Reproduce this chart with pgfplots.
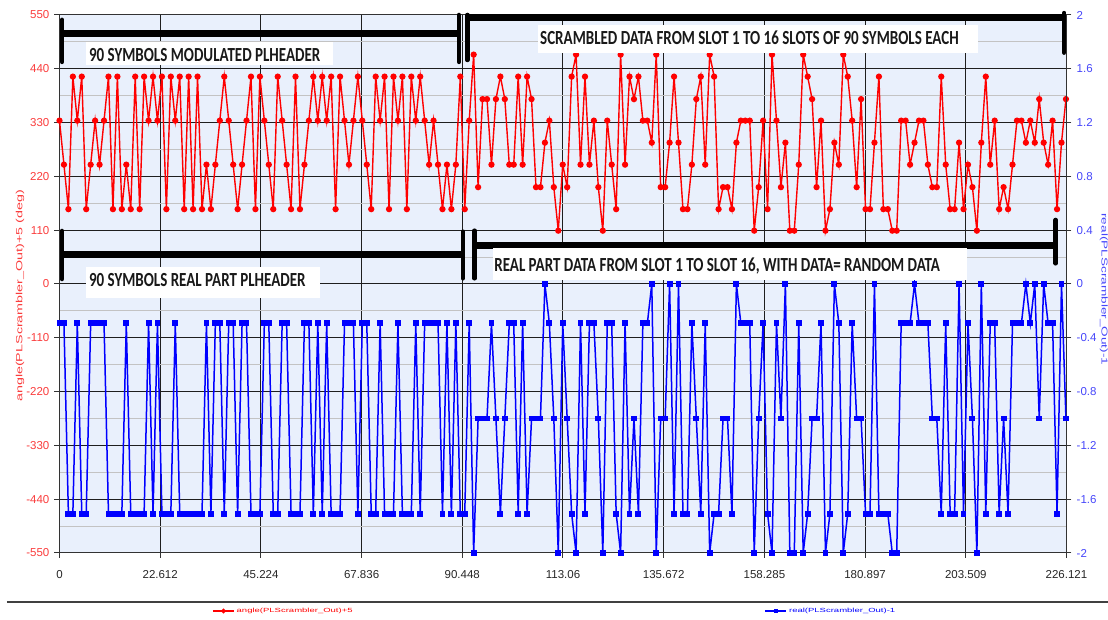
\documentclass[border=0pt]{standalone}
\usepackage{fontspec}
\setmainfont{Liberation Sans}
\newfontfamily\annfont[FakeStretch=0.75]{Carlito}
\usepackage{graphicx}
\usepackage{pgfplots}
\usepackage{pgfplotstable}
\pgfplotsset{compat=1.18}

\definecolor{bgblue}{RGB}{233,240,252}
\definecolor{lblred}{RGB}{250,60,60}
\definecolor{lblblue}{RGB}{70,70,250}
\definecolor{majgrid}{RGB}{30,30,30}
\definecolor{mingrid}{RGB}{195,195,195}
\newcommand\annbig{\annfont\bfseries\fontsize{20}{24}\selectfont}

\pgfplotstableread{
i r b
0 334 -0.2929
1 244 -0.2929
2 153 -1.7071
3 424 -1.7071
4 334 -0.2929
5 424 -1.7071
6 153 -1.7071
7 244 -0.2929
8 334 -0.2929
9 244 -0.2929
10 334 -0.2929
11 424 -1.7071
12 153 -1.7071
13 424 -1.7071
14 153 -1.7071
15 244 -0.2929
16 153 -1.7071
17 424 -1.7071
18 153 -1.7071
19 424 -1.7071
20 334 -0.2929
21 424 -1.7071
22 334 -0.2929
23 424 -1.7071
24 153 -1.7071
25 424 -1.7071
26 334 -0.2929
27 424 -1.7071
28 153 -1.7071
29 424 -1.7071
30 153 -1.7071
31 424 -1.7071
32 153 -1.7071
33 244 -0.2929
34 153 -1.7071
35 244 -0.2929
36 334 -0.2929
37 424 -1.7071
38 334 -0.2929
39 244 -0.2929
40 153 -1.7071
41 244 -0.2929
42 334 -0.2929
43 424 -1.7071
44 153 -1.7071
45 424 -1.7071
46 334 -0.2929
47 244 -0.2929
48 153 -1.7071
49 424 -1.7071
50 334 -0.2929
51 244 -0.2929
52 153 -1.7071
53 424 -1.7071
54 153 -1.7071
55 244 -0.2929
56 334 -0.2929
57 424 -1.7071
58 334 -0.2929
59 424 -1.7071
60 334 -0.2929
61 424 -1.7071
62 153 -1.7071
63 424 -1.7071
64 334 -0.2929
65 244 -0.2929
66 334 -0.2929
67 424 -1.7071
68 334 -0.2929
69 244 -0.2929
70 153 -1.7071
71 424 -1.7071
72 334 -0.2929
73 424 -1.7071
74 153 -1.7071
75 424 -1.7071
76 334 -0.2929
77 424 -1.7071
78 153 -1.7071
79 424 -1.7071
80 334 -0.2929
81 424 -1.7071
82 334 -0.2929
83 244 -0.2929
84 334 -0.2929
85 244 -0.2929
86 153 -1.7071
87 244 -0.2929
88 153 -1.7071
89 244 -0.2929
90 424 -1.7071
91 153 -1.7071
92 334 -0.2929
93 469 -2
94 198 -1
95 378 -1
96 378 -1
97 244 -0.2929
98 378 -1
99 424 -1.7071
100 378 -1
101 244 -0.2929
102 244 -0.2929
103 424 -1.7071
104 244 -0.2929
105 424 -1.7071
106 378 -1
107 198 -1
108 198 -1
109 289 0
110 334 -0.2929
111 198 -1
112 109 -2
113 244 -0.2929
114 198 -1
115 424 -1.7071
116 469 -2
117 244 -0.2929
118 424 -1.7071
119 244 -0.2929
120 334 -0.2929
121 198 -1
122 109 -2
123 334 -0.2929
124 244 -0.2929
125 153 -1.7071
126 469 -2
127 244 -0.2929
128 424 -1.7071
129 378 -1
130 424 -1.7071
131 334 -0.2929
132 334 -0.2929
133 289 0
134 469 -2
135 198 -1
136 198 -1
137 289 0
138 424 -1.7071
139 289 0
140 153 -1.7071
141 153 -1.7071
142 244 -0.2929
143 378 -1
144 424 -1.7071
145 244 -0.2929
146 469 -2
147 424 -1.7071
148 153 -1.7071
149 198 -1
150 198 -1
151 153 -1.7071
152 289 0
153 334 -0.2929
154 334 -0.2929
155 334 -0.2929
156 109 -2
157 198 -1
158 334 -0.2929
159 153 -1.7071
160 469 -2
161 334 -0.2929
162 198 -1
163 289 0
164 109 -2
165 109 -2
166 244 -0.2929
167 469 -2
168 424 -1.7071
169 378 -1
170 198 -1
171 334 -0.2929
172 109 -2
173 153 -1.7071
174 289 0
175 244 -0.2929
176 469 -2
177 424 -1.7071
178 334 -0.2929
179 198 -1
180 378 -1
181 153 -1.7071
182 153 -1.7071
183 289 0
184 424 -1.7071
185 153 -1.7071
186 153 -1.7071
187 109 -2
188 109 -2
189 334 -0.2929
190 334 -0.2929
191 244 -0.2929
192 289 0
193 334 -0.2929
194 334 -0.2929
195 244 -0.2929
196 198 -1
197 198 -1
198 424 -1.7071
199 244 -0.2929
200 153 -1.7071
201 153 -1.7071
202 289 0
203 153 -1.7071
204 244 -0.2929
205 198 -1
206 109 -2
207 289 0
208 424 -1.7071
209 244 -0.2929
210 334 -0.2929
211 153 -1.7071
212 198 -1
213 153 -1.7071
214 244 -0.2929
215 334 -0.2929
216 334 -0.2929
217 289 0
218 334 -0.2929
219 289 0
220 378 -1
221 289 0
222 244 -0.2929
223 334 -0.2929
224 153 -1.7071
225 289 0
226 378 -1
}\data

\begin{document}
\begin{tikzpicture}
\pgfplotsset{
  base/.style={
    scale only axis, width=1007pt, height=538pt,
    xmin=0, xmax=226.121,
    at={(0,0)}, anchor=south west,
    tick label style={font=\fontsize{11.5}{13}\selectfont},
  }
}
\begin{axis}[base,
  ymin=-550, ymax=550,
  axis background/.style={fill=bgblue},
  axis line style={black!80, line width=1pt},
  xtick={0,22.612,45.224,67.836,90.448,113.0605,135.672,158.285,180.897,203.509,226.121},
  xticklabels={0,22.612,45.224,67.836,90.448,113.06,135.672,158.285,180.897,203.509,226.121},
  ytick={-550,-440,-330,-220,-110,0,110,220,330,440,550},
  yticklabels={-550,-440,-330,-220,-110,0,110,220,330,440,550},
  minor x tick num=1, minor y tick num=1,
  xmajorgrids, ymajorgrids, xminorgrids, yminorgrids,
  major grid style={majgrid, line width=1pt},
  minor grid style={mingrid, line width=1pt},
  tick align=outside, major tick length=5pt, minor tick length=0pt,
  xtick pos=bottom, ytick pos=left,
  tick style={black!80, line width=1pt},
  yticklabel style={lblred, anchor=east, inner sep=0pt, xshift=-5pt},
  xticklabel style={black!85, anchor=north, inner sep=0pt, yshift=-12pt},
  ylabel={\scalebox{1}[0.63]{angle(PLScrambler\_Out)+5 (deg)}},
  ylabel style={lblred, font=\fontsize{14.3}{16}\selectfont, at={(axis description cs:-0.0392,0.478)}, anchor=center},
]
\addplot[red, line width=1.4pt, mark=*, mark size=2.4pt, mark options={solid}] table[x=i, y=r] {\data};
\end{axis}

\begin{axis}[base,
  ymin=-2, ymax=2,
  axis x line=none, axis y line*=right,
  axis line style={black!80, line width=1pt},
  ytick={-2,-1.6,-1.2,-0.8,-0.4,0,0.4,0.8,1.2,1.6,2},
  yticklabels={-2,-1.6,-1.2,-0.8,-0.4,0,0.4,0.8,1.2,1.6,2},
  tick align=outside, major tick length=5pt,
  tick style={black!80, line width=1pt},
  yticklabel style={lblblue, anchor=west, inner sep=0pt, xshift=5pt},
  ylabel={\scalebox{1}[0.63]{real(PLScrambler\_Out)-1}},
  ylabel style={lblblue, font=\fontsize{13.6}{16}\selectfont, at={(axis description cs:1.0372,0.49)}, anchor=center, rotate=180},
]
\addplot[blue, line width=1.5pt, mark=square*, mark size=2.2pt, mark options={solid}] table[x=i, y=b] {\data};
\end{axis}

\begin{axis}[base,
  ymin=-550, ymax=550, hide axis, clip=false,
  legend columns=2,
  legend style={at={(axis description cs:0,0)}, anchor=west, xshift=152.5pt, yshift=-58pt,
    draw=none, fill=none, inner sep=0pt, font=\fontsize{9.5}{11}\selectfont,
    /tikz/every even column/.append style={column sep=410pt}},
  legend image code/.code={\draw[mark repeat=2,mark phase=2,#1] plot coordinates {(0pt,0pt) (10.5pt,0pt) (21pt,0pt)};},
]
\addlegendimage{red, line width=1.5pt, mark=*, mark size=1.6pt}
\addlegendentry{\textcolor{red}{\scalebox{1}[0.63]{angle(PLScrambler\_Out)+5}}}
\addlegendimage{blue, line width=1.5pt, mark=square*, mark size=1.6pt}
\addlegendentry{\textcolor{blue}{\scalebox{1}[0.63]{real(PLScrambler\_Out)-1}}}
% bracket 1
\draw[line width=4.5pt, line cap=round] (axis cs:0.56,454) -- (axis cs:0.56,540);
\draw[line width=7pt] (axis cs:0.56,513) -- (axis cs:89.2,513);
\draw[line width=4.5pt, line cap=round] (axis cs:89.7,454) -- (axis cs:89.7,550);
% bracket 2
\draw[line width=4.5pt, line cap=round] (axis cs:91.6,458) -- (axis cs:91.6,550);
\draw[line width=6.5pt] (axis cs:91.6,545) -- (axis cs:225.6,545);
\draw[line width=4.5pt, line cap=round] (axis cs:225.6,473) -- (axis cs:225.6,554);
% bracket 3
\draw[line width=4.5pt, line cap=round] (axis cs:0.56,10.2) -- (axis cs:0.56,108.4);
\draw[line width=7pt] (axis cs:0.56,61.3) -- (axis cs:91.1,61.3);
\draw[line width=4.5pt, line cap=round] (axis cs:90.6,11.7) -- (axis cs:90.6,107);
% bracket 4
\draw[line width=4.5pt, line cap=round] (axis cs:93.2,11.7) -- (axis cs:93.2,109);
\draw[line width=7pt] (axis cs:93.2,79.7) -- (axis cs:223.1,79.7);
\draw[line width=4.5pt, line cap=round] (axis cs:223.7,42.3) -- (axis cs:223.7,130.9);
% text boxes
\fill[white] (axis cs:5.95,447.9) rectangle (axis cs:61.4,495.5);
\node[anchor=base west, inner sep=0pt, font=\annbig, black!90] at (axis cs:6.6,454.5) {90 SYMBOLS MODULATED PLHEADER};
\fill[white] (axis cs:107.5,471.7) rectangle (axis cs:206.3,529.6);
\node[anchor=base west, inner sep=0pt, font=\annbig, black!90] at (axis cs:107.9,488.7) {SCRAMBLED DATA FROM SLOT 1 TO 16 SLOTS OF 90 SYMBOLS EACH};
\fill[white] (axis cs:5.95,-29.6) rectangle (axis cs:58.5,35.4);
\node[anchor=base west, inner sep=0pt, font=\annbig, black!90] at (axis cs:6.6,-5.5) {90 SYMBOLS REAL PART PLHEADER};
\fill[white] (axis cs:97.4,8.2) rectangle (axis cs:203.7,73.6);
\node[anchor=base west, inner sep=0pt, font=\annbig, black!90] at (axis cs:97.6,25.2) {REAL PART DATA FROM SLOT 1 TO SLOT 16, WITH DATA= RANDOM DATA};
\end{axis}

\draw[line width=2pt, black!75] (-52.5pt,-49pt) -- (1048.5pt,-49pt);

\pgfresetboundingbox
\path[use as bounding box] (-59.5pt,-67pt) rectangle (1048.5pt,553pt);
\end{tikzpicture}
\end{document}
